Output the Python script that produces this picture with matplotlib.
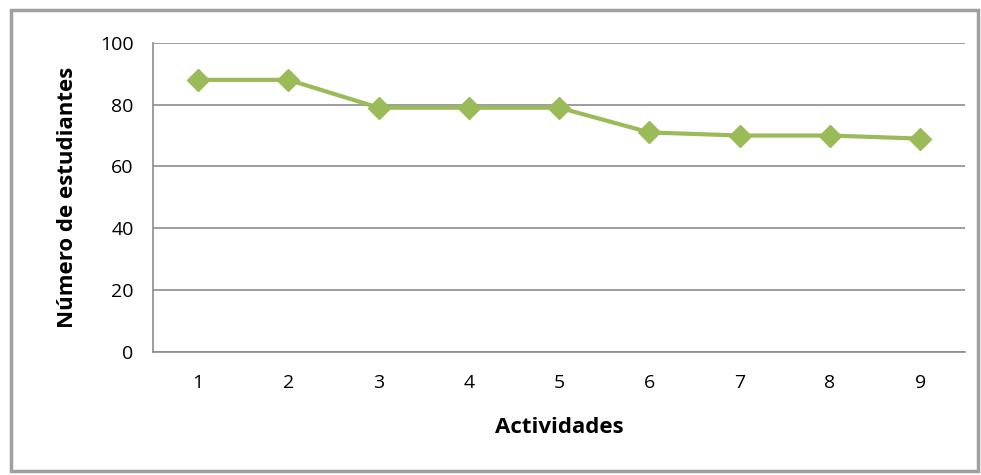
import matplotlib.pyplot as plt
from matplotlib.patches import Rectangle

actividades = [1, 2, 3, 4, 5, 6, 7, 8, 9]
estudiantes = [88, 88, 79, 79, 79, 71, 70, 70, 69]
y_ticks = [0, 20, 40, 60, 80, 100]

plt.rcParams['font.family'] = ['Open Sans', 'DejaVu Sans']

fig = plt.figure(figsize=(9.81, 4.75), dpi=100)
ax = fig.add_axes([0.156, 0.259, 0.828, 0.651])

# marco gris alrededor del gráfico
fig.patches.append(Rectangle((0.011, 0.008), 0.986, 0.972, transform=fig.transFigure,
                             fill=False, edgecolor='#a0a0a0', linewidth=2.5))

ax.plot(actividades, estudiantes, color='#9bbb59', linewidth=3,
        marker='D', markersize=11, zorder=3)

ax.set_xlim(0.5, 9.5)
ax.set_ylim(0, 100)
ax.set_yticks(y_ticks)
ax.set_xticks(actividades)
ax.grid(axis='y', color='#8c8c8c', linewidth=1.2)
ax.set_axisbelow(True)

for s in ['top', 'right']:
    ax.spines[s].set_visible(False)
ax.spines['left'].set_color('#8c8c8c')
ax.spines['bottom'].set_color('#8c8c8c')
ax.spines['left'].set_linewidth(1.2)
ax.spines['bottom'].set_linewidth(1.2)
ax.tick_params(length=0, labelsize=14, pad=14)
ax.tick_params(axis='x', pad=16)

ax.set_xlabel('Actividades', fontsize=16, fontweight='bold', labelpad=18)
ax.set_ylabel('Número de estudiantes', fontsize=16, fontweight='bold', labelpad=16)

fig.savefig('out.png', dpi=100)
